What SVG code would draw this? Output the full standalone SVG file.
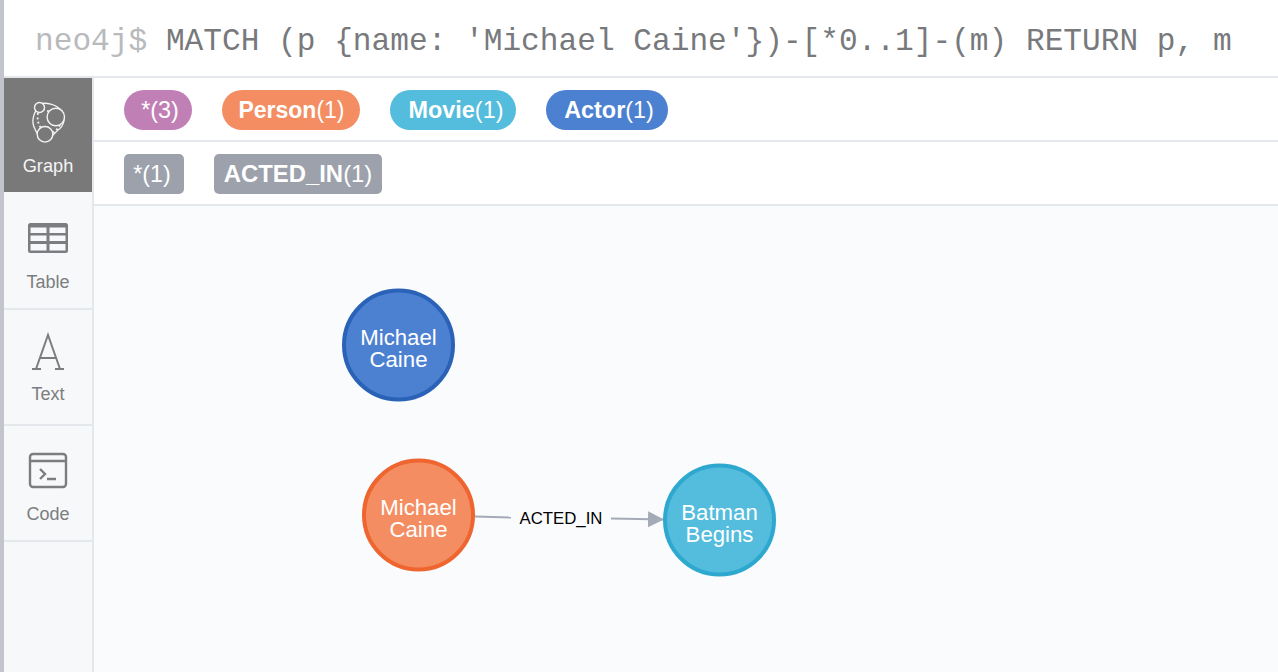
<svg xmlns="http://www.w3.org/2000/svg" width="1278" height="672" viewBox="0 0 1278 672">
<style>
.ui{font-family:"Liberation Sans",Arial,sans-serif}
.cmd{font-family:"Liberation Mono","DejaVu Sans Mono",monospace;font-size:31.17px;fill:#77797c}
.tab{font-family:"Liberation Sans",Arial,sans-serif;font-size:18px;fill:#7b7d80;text-anchor:middle}
.pill{font-family:"Liberation Sans",Arial,sans-serif;font-size:23.4px;fill:#fff;text-anchor:middle}
.bold{font-weight:700}
.node{font-family:"Liberation Sans",Arial,sans-serif;font-size:22.2px;fill:#fff;text-anchor:middle}
.div{fill:#e4e7ec}
.ico{fill:none;stroke:#7b7d80;stroke-width:2.4}
.gc{fill:#797979;stroke:#f4f4f4;stroke-width:1.400}
.gd{fill:none;stroke:#f4f4f4;stroke-width:1.800;stroke-dasharray:1.800 2.600}
</style>
<defs>
<marker id="arrow" markerUnits="userSpaceOnUse" markerWidth="18" markerHeight="18" refX="16" refY="8" orient="auto"><path d="M0 0L16 8L0 16Z" fill="#a5abb6"/></marker>
</defs>
<rect width="1278" height="672" fill="#f9fbfd"/>
<rect width="1278" height="76" fill="#fff"/>
<rect x="0" y="76" width="1278" height="2" class="div"/>
<rect x="94" y="78" width="1184" height="127" fill="#fff"/>
<rect x="94" y="140" width="1184" height="2" class="div"/>
<rect x="94" y="204" width="1184" height="2" class="div"/>
<rect x="4" y="78" width="88" height="594" fill="#f7f8fa"/>
<rect x="92" y="78" width="2" height="594" class="div"/>
<rect x="0" y="0" width="4" height="672" fill="#c2c6cc"/>
<text id="query" class="cmd" x="35" y="50" xml:space="preserve"><tspan fill="#b8babd">neo4j$</tspan> MATCH (p {name: 'Michael Caine'})-[*0..1]-(m) RETURN p, m</text>

<g id="tab-graph">
<rect x="4" y="78" width="88" height="114" fill="#797979"/>
<path d="M39 107C33 113 31 122 35 129C36 132 38 135 40 138M39 104C46 102 56 104 62 111C66 118 64 126 58 130C55 133 52 136 49 139" fill="none" stroke="#f4f4f4" stroke-width="1.300"/>
<path class="gd" d="M43 109L50 112M38 113C37 119 38 124 41 128M60 125C57 130 54 132 51 134"/>
<circle cx="39.500" cy="107.500" r="5" class="gc"/>
<circle cx="55.800" cy="117" r="8.700" class="gc"/>
<circle cx="45" cy="134.300" r="7.800" class="gc"/>
<text class="tab" x="48" y="172" style="fill:#f4f4f4;font-size:18.200px">Graph</text>
</g>
<g id="tab-table">
<rect x="4" y="308" width="88" height="2" class="div"/>
<rect x="28" y="223" width="40" height="30" rx="2.500" fill="#7b7d80"/>
<g fill="#f7f8fa"><rect x="30.500" y="227.500" width="16" height="5.500"/><rect x="49.500" y="227.500" width="16" height="5.500"/><rect x="30.500" y="235.500" width="16" height="5.500"/><rect x="49.500" y="235.500" width="16" height="5.500"/><rect x="30.500" y="244" width="16" height="6.500"/><rect x="49.500" y="244" width="16" height="6.500"/></g>
<text class="tab" x="48" y="288">Table</text>
</g>
<g id="tab-text">
<path class="ico" style="stroke-width:2" d="M36 369L48 335L60 369M40 358H56M32 369H41M55 369H64"/>
<text class="tab" x="48" y="400">Text</text>
</g>
<g id="tab-code">
<rect x="4" y="424" width="88" height="2" class="div"/>
<rect x="4" y="540" width="88" height="2" class="div"/>
<rect x="30" y="454" width="36" height="33" rx="3" class="ico"/>
<path class="ico" d="M30 461H66M40 469L45 474L40 479M47 479H56"/>
<text class="tab" x="48" y="520">Code</text>
</g>

<g id="pill-all"><rect x="124" y="90" width="68" height="40" rx="20" fill="#c07fb5"/><text class="pill" x="160" y="118">*(3)</text></g>
<g id="pill-person"><rect x="222" y="90" width="138" height="40" rx="20" fill="#f48e62"/><text class="pill" x="291.500" y="118" style="font-size:23px"><tspan class="bold">Person</tspan>(1)</text></g>
<g id="pill-movie"><rect x="390" y="90" width="126" height="40" rx="20" fill="#54bcdc"/><text class="pill" x="456" y="118"><tspan class="bold">Movie</tspan>(1)</text></g>
<g id="pill-actor"><rect x="546" y="90" width="122" height="40" rx="20" fill="#4c81d2"/><text class="pill" x="609" y="118"><tspan class="bold">Actor</tspan>(1)</text></g>
<g id="rel-all"><rect x="124" y="154" width="60" height="40" rx="5" fill="#9ca1ac"/><text class="pill" x="152" y="182">*(1)</text></g>
<g id="rel-acted"><rect x="214" y="154" width="168" height="40" rx="5" fill="#9ca1ac"/><text class="pill" x="298" y="182" style="font-size:23.900px"><tspan class="bold">ACTED_IN</tspan>(1)</text></g>

<g id="connectors">
<path d="M475 516.500L511 517.500" stroke="#a5abb6" stroke-width="2" fill="none"/>
<path d="M611 518.500L664 519.500" stroke="#a5abb6" stroke-width="2" fill="none" marker-end="url(#arrow)"/>
<text class="ui" x="561" y="524" font-size="16.800" fill="#000" text-anchor="middle">ACTED_IN</text>
</g>
<g id="node-actor"><circle cx="398.500" cy="345" r="54.500" fill="#4c81d2" stroke="#2a62b8" stroke-width="4"/><text class="node" x="398.500" y="345">Michael<tspan x="398.500" dy="22">Caine</tspan></text></g>
<g id="node-person"><circle cx="418.500" cy="515" r="54.500" fill="#f48e62" stroke="#ef6530" stroke-width="4"/><text class="node" x="418.500" y="515">Michael<tspan x="418.500" dy="22">Caine</tspan></text></g>
<g id="node-movie"><circle cx="719.500" cy="520" r="54.500" fill="#54bcdc" stroke="#2ea8cf" stroke-width="4"/><text class="node" x="719.500" y="520">Batman<tspan x="719.500" dy="22">Begins</tspan></text></g>
</svg>
